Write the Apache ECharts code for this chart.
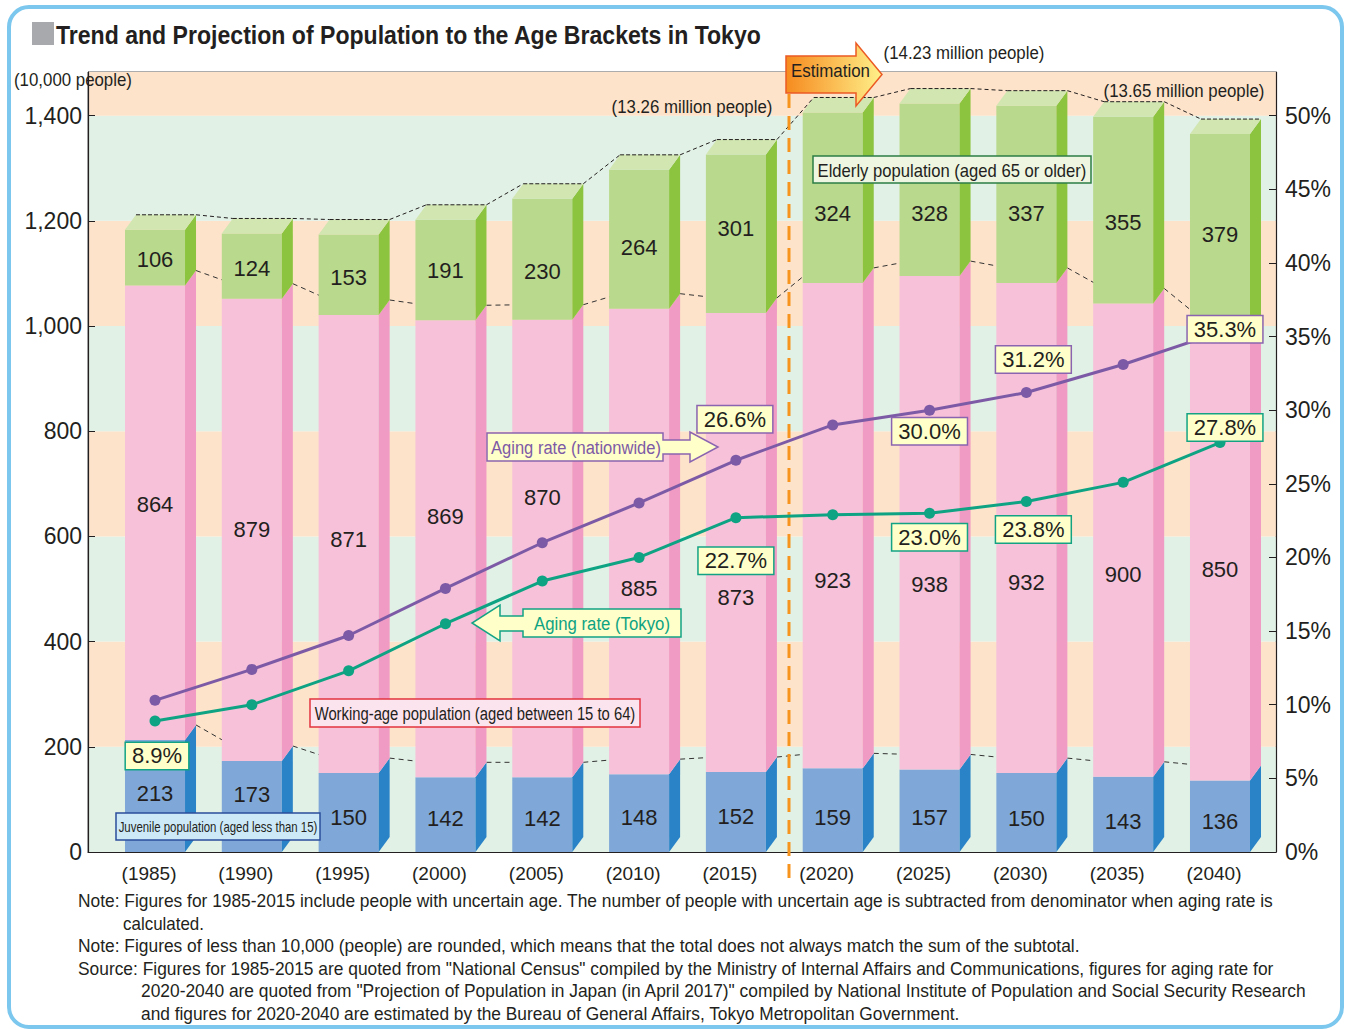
<!DOCTYPE html>
<html><head><meta charset="utf-8">
<script src="https://cdn.jsdelivr.net/npm/echarts@6/dist/echarts.min.js"></script>
<style>html,body{margin:0;padding:0;background:#fff;}#chart{width:1349px;height:1030px;}</style>
</head><body><div id="chart"></div>
<script>
// ---------------- DATA ----------------
const years = ['1985','1990','1995','2000','2005','2010','2015','2020','2025','2030','2035','2040'];
const juvenile   = [213,173,150,142,142,148,152,159,157,150,143,136];
const workingAge = [864,879,871,869,870,885,873,923,938,932,900,850];
const elderly    = [106,124,153,191,230,264,301,324,328,337,355,379];
const agingNationwide = [10.3,12.4,14.7,17.9,21.0,23.7,26.6,29.0,30.0,31.2,33.1,35.3];
const agingTokyo      = [8.9,10.0,12.3,15.5,18.4,20.0,22.7,22.9,23.0,23.8,25.1,27.8];
const labeledNationwide = [6,8,9,11];
const labeledTokyo = [0,6,8,9,11];
const leftTicks  = [0,200,400,600,800,1000,1200,1400];
const rightTicks = [0,5,10,15,20,25,30,35,40,45,50];
const totalNotes = ['(13.26 million people)','(14.23 million people)','(13.65 million people)'];
const footnotes = [
  'Note: Figures for 1985-2015 include people with uncertain age. The number of people with uncertain age is subtracted from denominator when aging rate is',
  'calculated.',
  'Note: Figures of less than 10,000 (people) are rounded, which means that the total does not always match the sum of the subtotal.',
  'Source: Figures for 1985-2015 are quoted from "National Census" compiled by the Ministry of Internal Affairs and Communications, figures for aging rate for',
  '2020-2040 are quoted from "Projection of Population in Japan (in April 2017)" compiled by National Institute of Population and Social Security Research',
  'and figures for 2020-2040 are estimated by the Bureau of General Affairs, Tokyo Metropolitan Government.'
];

// ---------------- LAYOUT / STYLE ----------------
const SANS = "'Liberation Sans',Arial,sans-serif";
const TXT = '#231f20';
const YMAX = 1483, PMAX = YMAX / 28;
const DX = 11, DY = 15, BARW = 0.62;
const COLORS = {
  juv: {front:'#7fa8d8', side:'#2a83c7'},
  work:{front:'#f6c1d9', side:'#f09bc3'},
  eld: {front:'#b9d98c', side:'#8cc43f', top:'#d1e6b1'}
};
const PURPLE = '#7d5aa6', GREEN = '#0ea383';
const juvOff  = [-2,-12,5,4,4,4,4,7,7,6,7,5];
const workOff = [-8,0,-5,-32,-51,47,55,55,62,54,34,13];
const eldOff  = [2,2,3,0,12,8,-5,16,24,19,12,1];
const natOff = {6:[-1,-41], 8:[0,21], 9:[7,-33], 11:[5,-3]};
const tkyOff = {0:[2,35], 6:[0,43], 8:[0,24], 9:[7,28], 11:[5,-15]};

// condensed text: measure and squeeze horizontally to the reference width
const _ctx = document.createElement('canvas').getContext('2d');
function squeeze(text, size, weight, target){
  _ctx.font = (weight||'normal') + ' ' + size + 'px ' + SANS;
  const w = _ctx.measureText(text).width;
  return w > 0 ? Math.min(1, target / w) : 1;
}
function ntext(x, y, text, size, target, opts){
  opts = opts || {};
  return {type:'text', z:opts.z||100, x, y, scaleX:squeeze(text, size, opts.weight, target),
    style:{text, align:opts.align||'left', verticalAlign:'middle', fontSize:size, fontWeight:opts.weight||'normal',
      fontFamily:SANS, fill:opts.color||TXT}};
}

const cumJ  = juvenile.slice();
const cumJW = juvenile.map((v,i)=>v+workingAge[i]);
const cumT  = cumJW.map((v,i)=>v+elderly[i]);

function barSeries(name, values, bases, col, offs, isTop){
  return {
    name, type:'custom', xAxisIndex:1, yAxisIndex:2, z:2, silent:true,
    data: values.map((v,i)=>[i, bases[i], bases[i]+v, v]),
    encode:{x:0, y:[1,2]},
    renderItem(params, api){
      const i = api.value(0);
      const p0 = api.coord([i, api.value(1)]);
      const p1 = api.coord([i, api.value(2)]);
      const bw = api.size([1,0])[0]*BARW;
      const L = p0[0]-bw/2, R = p0[0]+bw/2, yb = p0[1], yt = p1[1];
      const ch = [
        {type:'rect', shape:{x:L, y:yt, width:bw, height:yb-yt}, style:{fill:col.front}},
        {type:'polygon', shape:{points:[[R,yb],[R,yt],[R+DX,yt-DY],[R+DX,yb-DY]]}, style:{fill:col.side}}
      ];
      if (isTop) ch.push({type:'polygon', shape:{points:[[L,yt],[L+DX,yt-DY],[R+DX,yt-DY],[R,yt]]}, style:{fill:col.top}});
      ch.push({type:'text', style:{text:String(api.value(3)), x:(L+R)/2, y:(yt+yb)/2+offs[i], align:'center', verticalAlign:'middle', fontSize:22, fontFamily:SANS, fill:TXT}});
      return {type:'group', children:ch};
    }
  };
}

function connectorSeries(cum, z, dash, color){
  return {
    type:'custom', xAxisIndex:1, yAxisIndex:2, z, silent:true,
    data: cum.slice(0,-1).map((v,i)=>[i, v, cum[i+1]]),
    encode:{x:0, y:1},
    renderItem(params, api){
      const i = api.value(0);
      const a = api.coord([i, api.value(1)]);
      const b = api.coord([i+1, api.value(2)]);
      const bw = api.size([1,0])[0]*BARW;
      return {type:'line', shape:{x1:a[0]+bw/2+DX, y1:a[1]-DY, x2:b[0]-bw/2+DX, y2:b[1]-DY},
        style:{stroke:color, lineWidth:1, lineDash:dash}};
    }
  };
}

function topLineSeries(){
  return {
    type:'custom', xAxisIndex:1, yAxisIndex:2, z:3, silent:true,
    data: cumT.map((v,i)=>[i, v, i<cumT.length-1 ? cumT[i+1] : v]),
    encode:{x:0, y:1},
    renderItem(params, api){
      const i = api.value(0);
      const a = api.coord([i, api.value(1)]);
      const bw = api.size([1,0])[0]*BARW;
      const ch = [{type:'line', shape:{x1:a[0]-bw/2+DX, y1:a[1]-DY, x2:a[0]+bw/2+DX, y2:a[1]-DY}, style:{stroke:'#231f20', lineWidth:1, lineDash:[4,2]}}];
      if (i < cumT.length-1){
        const b = api.coord([i+1, api.value(2)]);
        ch.push({type:'line', shape:{x1:a[0]+bw/2+DX, y1:a[1]-DY, x2:b[0]-bw/2+DX, y2:b[1]-DY}, style:{stroke:'#231f20', lineWidth:1, lineDash:[4,3]}});
      }
      return {type:'group', children:ch};
    }
  };
}

function rateData(vals, labeled, offs, color){
  return vals.map((v,i)=>{
    if (labeled.indexOf(i) < 0) return v;
    return {value:v, label:{show:true, position:'inside', offset:offs[i],
      formatter: p => Number(p.value).toFixed(1)+'%',
      backgroundColor:'#ffffc9', borderColor:color, borderWidth:1.5, padding:[3,6,1,6],
      color:TXT, fontSize:22, fontFamily:SANS}};
  });
}

const bands = [];
for (let k=0;k<leftTicks.length;k++){
  bands.push([0, leftTicks[k], k<leftTicks.length-1 ? leftTicks[k+1] : YMAX, k]);
}

function boxText(x,y,w,h,text,stroke,fill,size,target){
  return [
    {type:'rect', z:60, shape:{x,y,width:w,height:h}, style:{fill, stroke, lineWidth:1.5}},
    ntext(x+w/2, y+h/2+1, text, size, target, {align:'center', z:61})
  ];
}

const graphics = [
  {type:'rect', z:100, shape:{x:9, y:7, width:1333, height:1020, r:20}, style:{fill:'none', stroke:'#7cc7ee', lineWidth:4}},
  {type:'rect', z:100, shape:{x:32, y:22, width:22, height:23}, style:{fill:'#a7a9ac'}},
  ntext(56, 35, 'Trend and Projection of Population to the Age Brackets in Tokyo', 25, 706, {weight:'bold'}),
  ntext(14, 80, '(10,000 people)', 18, 118),
  ntext(692, 107, totalNotes[0], 19, 161, {align:'center'}),
  ntext(964, 53, totalNotes[1], 19, 161, {align:'center'}),
  ntext(1184, 91, totalNotes[2], 19, 161, {align:'center'}),
  // Estimation divider and arrow
  {type:'line', z:4, shape:{x1:789, y1:94, x2:789, y2:882}, style:{stroke:'#f7941d', lineWidth:3, lineDash:[14,8]}},
  {type:'polygon', z:100, shape:{points:[[786,56],[856,56],[856,43],[882,74.5],[856,106],[856,93],[786,93]]},
    style:{fill:new echarts.graphic.LinearGradient(0,0,1,0,[{offset:0,color:'#f68b1f'},{offset:1,color:'#fff08a'}]), stroke:'#ec5a24', lineWidth:1.5}},
  ntext(791, 71, 'Estimation', 19, 79, {z:101}),
  // aging arrows
  {type:'polygon', z:60, shape:{points:[[487,433],[663,433],[663,440],[690,440],[690,432],[718,447],[690,462],[690,454],[663,454],[663,461],[487,461]]},
    style:{fill:'#ffffc9', stroke:'#8a64b0', lineWidth:1.5}},
  ntext(576, 448, 'Aging rate (nationwide)', 19, 170, {align:'center', z:61, color:'#7d5aa6'}),
  {type:'polygon', z:60, shape:{points:[[681,609],[523,609],[523,616],[500,616],[500,605],[472,623],[500,641],[500,631],[523,631],[523,637],[681,637]]},
    style:{fill:'#ffffc9', stroke:'#13a384', lineWidth:1.5}},
  ntext(602, 624, 'Aging rate (Tokyo)', 19, 136, {align:'center', z:61, color:'#0ea383'})
].concat(
  boxText(813,156,278,27,'Elderly population (aged 65 or older)','#2d7d46','#eef6e2',19,269),
  boxText(310,699,330,28,'Working-age population (aged between 15 to 64)','#e2343f','#fce4ee',19,321),
  boxText(116,813,204,27,'Juvenile population (aged less than 15)','#2b4d9b','#cde9f8',14,199)
);
const noteX = [78,123,78,78,141,141], noteY = [901,924,946,969,991,1014];
const noteW = [1196,81,1002,1197,1166,821];
footnotes.forEach((t,i)=>graphics.push(ntext(noteX[i], noteY[i], t, 18.5, noteW[i])));

const option = {
  animation:false,
  backgroundColor:'#ffffff',
  grid:[
    {left:88, right:73, top:72, bottom:178, show:true, borderColor:'#58595b', borderWidth:1, backgroundColor:'transparent'},
    {left:106.6, right:80.6, top:72, bottom:178}
  ],
  xAxis:[
    {gridIndex:0, type:'value', min:0, max:1, axisLine:{show:true, onZero:false, lineStyle:{color:TXT, width:1.2}}, axisTick:{show:false}, axisLabel:{show:false}, splitLine:{show:false}},
    {gridIndex:1, type:'category', data:years.map(y=>'('+y+')'), axisLine:{show:false}, axisTick:{show:false},
      axisLabel:{color:TXT, fontSize:19, fontFamily:SANS, margin:12, padding:[0,12,0,0]}}
  ],
  yAxis:[
    {gridIndex:0, type:'value', min:0, max:YMAX, position:'left',
      axisLine:{show:true, lineStyle:{color:TXT, width:1.2}},
      axisTick:{show:true, inside:true, length:7, customValues:leftTicks, lineStyle:{color:TXT}},
      axisLabel:{customValues:leftTicks, formatter:v=> (v%200===0 ? String(v).replace(/\B(?=(\d{3})+(?!\d))/g, ',') : ''), fontSize:23, fontFamily:SANS, color:TXT, margin:6},
      splitLine:{show:false}},
    {gridIndex:0, type:'value', min:0, max:PMAX, position:'right',
      axisLine:{show:true, lineStyle:{color:TXT, width:1.2}},
      axisTick:{show:true, inside:true, length:7, customValues:rightTicks, lineStyle:{color:TXT}},
      axisLabel:{customValues:rightTicks, formatter:v=> (Math.abs(v%5)<1e-9 ? v+'%' : ''), fontSize:23, fontFamily:SANS, color:TXT, margin:9},
      splitLine:{show:false}},
    {gridIndex:1, type:'value', min:0, max:YMAX, show:false},
    {gridIndex:1, type:'value', min:0, max:PMAX, show:false}
  ],
  series:[
    {type:'custom', xAxisIndex:0, yAxisIndex:0, z:0, silent:true, data:bands, encode:{x:0, y:[1,2]},
      renderItem(params, api){
        const a = api.coord([0, api.value(1)]), b = api.coord([1, api.value(2)]);
        return {type:'rect', shape:{x:a[0], y:b[1], width:b[0]-a[0], height:a[1]-b[1]},
          style:{fill: api.value(3)%2===0 ? '#e1f1e5' : '#fde3ca'}};
      }},
    connectorSeries(cumJ, 1, [5,4], '#333'),
    connectorSeries(cumJW, 1, [5,4], '#333'),
    barSeries('Juvenile', juvenile, juvenile.map(()=>0), COLORS.juv, juvOff, false),
    barSeries('Working-age', workingAge, cumJ, COLORS.work, workOff, false),
    barSeries('Elderly', elderly, cumJW, COLORS.eld, eldOff, true),
    topLineSeries(),
    {name:'Aging rate (nationwide)', type:'line', xAxisIndex:1, yAxisIndex:3, z:10, silent:true,
      data:rateData(agingNationwide, labeledNationwide, natOff, '#8a64b0'),
      symbol:'circle', symbolSize:11, lineStyle:{width:3, color:PURPLE}, itemStyle:{color:PURPLE}},
    {name:'Aging rate (Tokyo)', type:'line', xAxisIndex:1, yAxisIndex:3, z:10, silent:true,
      data:rateData(agingTokyo, labeledTokyo, tkyOff, '#13a384'),
      symbol:'circle', symbolSize:11, lineStyle:{width:3, color:GREEN}, itemStyle:{color:GREEN}}
  ],
  graphic:{elements:graphics}
};
const chart = echarts.init(document.getElementById('chart'), null, {renderer:'svg', width:1349, height:1030});
chart.setOption(option);
</script>
</body></html>
